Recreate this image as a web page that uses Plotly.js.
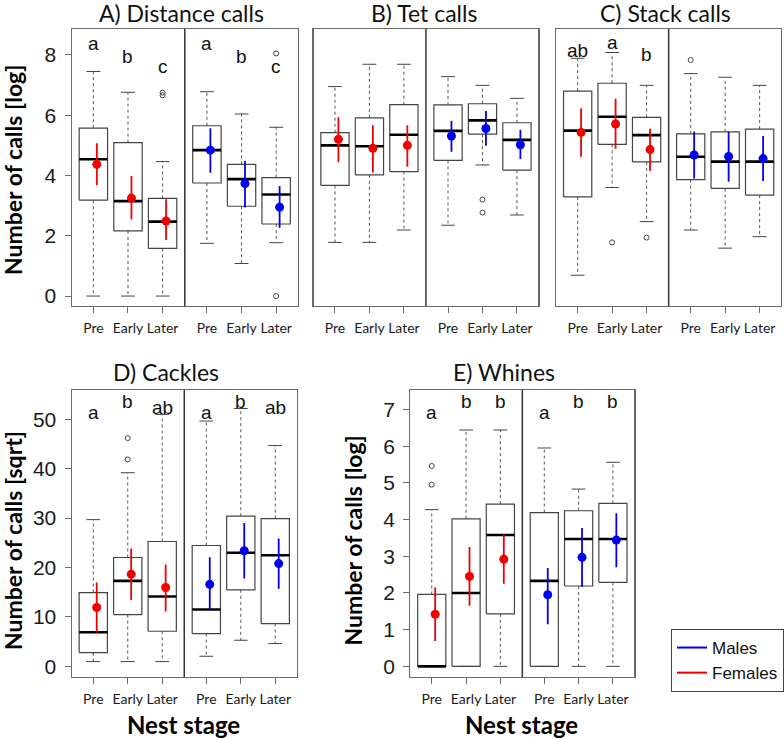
<!DOCTYPE html>
<html>
<head>
<meta charset="utf-8">
<script src="https://cdn.plot.ly/plotly-3.0.1.min.js"></script>
<style>html,body{margin:0;padding:0;background:#fff;}#chart{width:784px;height:739px;}</style>
</head>
<body>
<div id="chart"></div>
<script>
// ---------- DATA ----------
// order in every array: Female Pre, Female Early, Female Later, Male Pre, Male Early, Male Later
const stageLabels = ['Pre','Early','Later','Pre','Early','Later'];
const stagePos = [1, 2, 3, 4.28, 5.28, 6.28];
const sexOfBox = ['F','F','F','M','M','M'];
const panelTitles = ['A) Distance calls','B) Tet calls','C) Stack calls','D) Cackles','E) Whines'];

// A) Distance calls
const A_hi    = [7.45, 6.76, 4.46, 6.78, 6.04, 5.60];
const A_q3    = [5.57, 5.09, 3.24, 5.65, 4.37, 3.93];
const A_med   = [4.54, 3.15, 2.47, 4.84, 3.88, 3.37];
const A_q1    = [3.18, 2.16, 1.58, 3.75, 2.98, 2.39];
const A_lo    = [0.00, 0.00, 0.00, 1.75, 1.08, 1.77];
const A_mean  = [4.37, 3.25, 2.49, 4.84, 3.73, 2.95];
const A_errHi = [5.07, 3.98, 3.21, 5.57, 4.48, 3.65];
const A_errLo = [3.68, 2.54, 1.86, 4.09, 2.94, 2.27];
const A_outIdx = [2, 2, 5, 5];
const A_outVal = [6.75, 6.66, 8.05, 0.0];
const A_letters = ['a','b','c','a','b','c'];
const A_letterY = [8.38, 7.94, 7.60, 8.38, 7.94, 7.60];

// B) Tet calls
const B_hi    = [6.95, 7.69, 7.69, 7.28, 6.99, 6.56];
const B_q3    = [5.42, 5.91, 6.35, 6.34, 6.38, 5.75];
const B_med   = [5.00, 4.97, 5.35, 5.48, 5.83, 5.18];
const B_q1    = [3.67, 4.02, 4.13, 4.50, 5.37, 4.18];
const B_lo    = [1.78, 1.78, 2.19, 2.35, 4.35, 2.69];
const B_mean  = [5.20, 4.90, 5.00, 5.31, 5.56, 5.02];
const B_errHi = [5.93, 5.67, 5.67, 5.82, 6.14, 5.52];
const B_errLo = [4.44, 4.10, 4.29, 4.79, 4.99, 4.55];
const B_outIdx = [4, 4];
const B_outVal = [3.20, 2.77];
const B_letters = ['','','','','',''];
const B_letterY = [0, 0, 0, 0, 0, 0];

// C) Stack calls
const C_hi    = [7.89, 8.08, 6.99, 7.38, 7.26, 6.99];
const C_q3    = [6.80, 7.06, 5.93, 5.38, 5.45, 5.54];
const C_med   = [5.49, 5.95, 5.34, 4.62, 4.46, 4.46];
const C_q1    = [3.29, 5.03, 4.45, 3.86, 3.57, 3.35];
const C_lo    = [0.69, 3.60, 2.47, 2.19, 1.59, 1.97];
const C_mean  = [5.43, 5.71, 4.86, 4.68, 4.63, 4.56];
const C_errHi = [6.23, 6.55, 5.55, 5.46, 5.45, 5.31];
const C_errLo = [4.62, 4.89, 4.15, 3.90, 3.79, 3.82];
const C_outIdx = [1, 2, 3];
const C_outVal = [1.78, 1.94, 7.83];
const C_letters = ['ab','a','b','','',''];
const C_letterY = [8.14, 8.41, 8.00, 0, 0, 0];

// D) Cackles
const D_hi    = [29.7, 39.2, 51.0, 49.66, 52.2, 44.7];
const D_q3    = [14.93, 22.03, 25.27, 24.46, 30.4, 29.9];
const D_med   = [6.9, 17.3, 14.12, 11.49, 23.0, 22.5];
const D_q1    = [2.77, 10.47, 7.09, 6.62, 15.47, 8.65];
const D_lo    = [0.95, 0.95, 0.95, 2.03, 5.27, 4.6];
const D_mean  = [11.9, 18.65, 15.95, 16.6, 23.4, 20.8];
const D_errHi = [16.96, 23.85, 20.6, 22.1, 29.0, 25.9];
const D_errLo = [6.82, 13.4, 11.08, 11.5, 17.8, 15.7];
const D_outIdx = [1, 1];
const D_outVal = [41.9, 46.2];
const D_letters = ['a','b','ab','a','b','ab'];
const D_letterY = [51.35, 53.7, 52.4, 51.35, 53.7, 52.4];

// E) Whines
const E_hi    = [4.27, 6.44, 6.44, 5.95, 4.83, 5.56];
const E_q3    = [1.96, 4.02, 4.42, 4.19, 4.24, 4.44];
const E_med   = [0.00, 2.00, 3.58, 2.33, 3.47, 3.47];
const E_q1    = [0.00, 0.00, 1.43, 0.00, 2.19, 2.29];
const E_lo    = [0, 0, 0, 0, 0, 0];
const E_mean  = [1.42, 2.45, 2.92, 1.95, 2.97, 3.44];
const E_errHi = [2.15, 3.25, 3.59, 2.68, 3.77, 4.17];
const E_errLo = [0.69, 1.65, 2.25, 1.15, 2.16, 2.70];
const E_outIdx = [0, 0];
const E_outVal = [5.46, 4.95];
const E_letters = ['a','b','b','a','b','b'];
const E_letterY = [6.91, 7.23, 7.23, 6.91, 7.23, 7.23];

const yTitles = ['Number of calls [log]', '', '', 'Number of calls [sqrt]', 'Number of calls [log]'];
const xTitle = 'Nest stage';
const legendNames = ['Males', 'Females'];

// ---------- LAYOUT GEOMETRY (pixels) ----------
const W = 784, H = 739;
const frames = [ // [left, right, top, bottom]
  [72, 298, 29, 306],
  [314, 539, 29, 306],
  [557, 782, 29, 306],
  [72, 297, 390, 677],
  [411, 635, 390, 677]
];
const yRanges = [[-0.33, 8.86], [-0.33, 8.86], [-0.33, 8.86], [-2.17, 55.95], [-0.29, 7.53]];
const yTicks = [[0,2,4,6,8], null, null, [0,10,20,30,40,50], [0,1,2,3,4,5,6,7]];
const xRange = [0.38, 6.9];
const dividerX = 3.64;
const titleCenters = [[182, 13], [425, 13], [666, 13], [166, 372], [505, 372]];
const yTitlePos = [[13, 170], null, null, [13, 540], [353, 541]];
const xTitlePos = [[184, 724], [522, 724]];

const boxHalf = 0.41, capHalf = 0.2, meanOff = 0.1;
const RED = '#f00000', BLUE = '#0000f0';
const LAT = 'Lato, "Open Sans", sans-serif';
const ARIAL = '"Liberation Sans", Arial, sans-serif';

const panels = [
  {hi:A_hi,q3:A_q3,med:A_med,q1:A_q1,lo:A_lo,mean:A_mean,eh:A_errHi,el:A_errLo,oi:A_outIdx,ov:A_outVal,lt:A_letters,ly:A_letterY},
  {hi:B_hi,q3:B_q3,med:B_med,q1:B_q1,lo:B_lo,mean:B_mean,eh:B_errHi,el:B_errLo,oi:B_outIdx,ov:B_outVal,lt:B_letters,ly:B_letterY},
  {hi:C_hi,q3:C_q3,med:C_med,q1:C_q1,lo:C_lo,mean:C_mean,eh:C_errHi,el:C_errLo,oi:C_outIdx,ov:C_outVal,lt:C_letters,ly:C_letterY},
  {hi:D_hi,q3:D_q3,med:D_med,q1:D_q1,lo:D_lo,mean:D_mean,eh:D_errHi,el:D_errLo,oi:D_outIdx,ov:D_outVal,lt:D_letters,ly:D_letterY},
  {hi:E_hi,q3:E_q3,med:E_med,q1:E_q1,lo:E_lo,mean:E_mean,eh:E_errHi,el:E_errLo,oi:E_outIdx,ov:E_outVal,lt:E_letters,ly:E_letterY}
];

const traces = [];
const layout = {
  width: W, height: H,
  margin: {l:0, r:0, t:0, b:0},
  paper_bgcolor: '#fff', plot_bgcolor: '#fff',
  showlegend: true,
  legend: {
    x: 672/W, y: 1 - 629/H, xanchor: 'left', yanchor: 'top',
    bgcolor: '#fff', bordercolor: '#444', borderwidth: 1,
    font: {family: ARIAL, size: 17, color: '#111'},
    tracegroupgap: 0, itemwidth: 30
  },
  annotations: [], shapes: []
};

panels.forEach((p, k) => {
  const n = k + 1;
  const xa = n === 1 ? 'x' : 'x' + n;
  const ya = n === 1 ? 'y' : 'y' + n;
  const xKey = n === 1 ? 'xaxis' : 'xaxis' + n;
  const yKey = n === 1 ? 'yaxis' : 'yaxis' + n;
  const f = frames[k];

  layout[xKey] = {
    domain: [f[0]/W, f[1]/W], anchor: ya, range: xRange,
    showgrid: false, zeroline: false, showline: true, mirror: true,
    linecolor: '#6a6a6a', linewidth: 1.4,
    tickmode: 'array', tickvals: stagePos, ticktext: stageLabels, tickangle: 0,
    ticks: 'outside', ticklen: 6, tickcolor: '#6a6a6a', tickwidth: 1,
    tickfont: {family: LAT, size: 14, color: '#1a1a1a'}, ticklabelstandoff: 3,
    fixedrange: true
  };
  const yax = {
    domain: [1 - f[3]/H, 1 - f[2]/H], anchor: xa, range: yRanges[k],
    showgrid: false, zeroline: false, showline: true, mirror: true,
    linecolor: '#6a6a6a', linewidth: 1.4, fixedrange: true
  };
  if (yTicks[k]) {
    Object.assign(yax, {tickmode: 'array', tickvals: yTicks[k], ticks: 'outside', ticklen: 6,
      tickcolor: '#6a6a6a', tickwidth: 1, tickfont: {family: ARIAL, size: 21, color: '#1a1a1a'},
      ticklabelstandoff: 4});
  } else {
    Object.assign(yax, {showticklabels: false, ticks: ''});
  }
  layout[yKey] = yax;

  // divider between females and males
  layout.shapes.push({type: 'line', xref: xa, yref: ya + ' domain', x0: dividerX, x1: dividerX, y0: 0, y1: 1,
    line: {color: '#333', width: 1.5}});

  // build box geometry from data
  const bx = [], by = [], mx = [], my = [], wx = [], wy = [], cx = [], cy = [];
  for (let i = 0; i < 6; i++) {
    const x = stagePos[i];
    bx.push(x-boxHalf, x+boxHalf, x+boxHalf, x-boxHalf, x-boxHalf, null);
    by.push(p.q1[i], p.q1[i], p.q3[i], p.q3[i], p.q1[i], null);
    mx.push(x-boxHalf, x+boxHalf, null); my.push(p.med[i], p.med[i], null);
    wx.push(x, x, null, x, x, null); wy.push(p.q3[i], p.hi[i], null, p.q1[i], p.lo[i], null);
    cx.push(x-capHalf, x+capHalf, null, x-capHalf, x+capHalf, null);
    cy.push(p.hi[i], p.hi[i], null, p.lo[i], p.lo[i], null);
  }
  const common = {xaxis: xa, yaxis: ya, showlegend: false, hoverinfo: 'skip', type: 'scatter'};
  traces.push(Object.assign({x: wx, y: wy, mode: 'lines', line: {color: '#555', width: 1, dash: '3px,3px'}}, common));
  traces.push(Object.assign({x: cx, y: cy, mode: 'lines', line: {color: '#444', width: 1}}, common));
  traces.push(Object.assign({x: bx, y: by, mode: 'lines', line: {color: '#444', width: 1.2}}, common));
  traces.push(Object.assign({x: mx, y: my, mode: 'lines', line: {color: '#000', width: 2.6}}, common));
  traces.push(Object.assign({x: p.oi.map(i => stagePos[i]), y: p.ov, mode: 'markers',
    marker: {symbol: 'circle-open', size: 5, color: '#444', line: {width: 1}}}, common));

  // means with error bars
  ['F','M'].forEach(s => {
    const idx = [0,1,2,3,4,5].filter(i => sexOfBox[i] === s);
    const col = s === 'F' ? RED : BLUE;
    traces.push(Object.assign({
      x: idx.map(i => stagePos[i] + meanOff), y: idx.map(i => p.mean[i]), mode: 'markers',
      marker: {size: 9, color: col},
      error_y: {type: 'data', symmetric: false,
        array: idx.map(i => p.eh[i] - p.mean[i]), arrayminus: idx.map(i => p.mean[i] - p.el[i]),
        color: col, thickness: 1.8, width: 0}
    }, common));
  });

  // letters
  for (let i = 0; i < 6; i++) {
    if (!p.lt[i]) continue;
    layout.annotations.push({xref: xa, yref: ya, x: stagePos[i], y: p.ly[i], text: p.lt[i],
      showarrow: false, xanchor: 'center', yanchor: 'middle',
      font: {family: ARIAL, size: 19, color: '#111'}});
  }

  // panel title
  layout.annotations.push({xref: 'paper', yref: 'paper', x: titleCenters[k][0]/W, y: 1 - titleCenters[k][1]/H,
    text: panelTitles[k], showarrow: false, xanchor: 'center', yanchor: 'middle',
    font: {family: LAT, size: 23, color: '#111'}});

  // y title
  if (yTitles[k]) {
    layout.annotations.push({xref: 'paper', yref: 'paper', x: yTitlePos[k][0]/W, y: 1 - yTitlePos[k][1]/H,
      text: '<b>' + yTitles[k] + '</b>', showarrow: false, textangle: -90, xanchor: 'center', yanchor: 'middle',
      font: {family: LAT, size: 23, color: '#000'}});
  }
});

xTitlePos.forEach(pt => {
  layout.annotations.push({xref: 'paper', yref: 'paper', x: pt[0]/W, y: 1 - pt[1]/H,
    text: '<b>' + xTitle + '</b>', showarrow: false, xanchor: 'center', yanchor: 'middle',
    font: {family: LAT, size: 24, color: '#000'}});
});

// legend entries
traces.push({x: [null], y: [null], type: 'scatter', mode: 'lines', name: legendNames[0],
  line: {color: BLUE, width: 2}, showlegend: true, hoverinfo: 'skip'});
traces.push({x: [null], y: [null], type: 'scatter', mode: 'lines', name: legendNames[1],
  line: {color: RED, width: 2}, showlegend: true, hoverinfo: 'skip'});

Plotly.newPlot('chart', traces, layout, {displayModeBar: false, staticPlot: true});
</script>
</body>
</html>
